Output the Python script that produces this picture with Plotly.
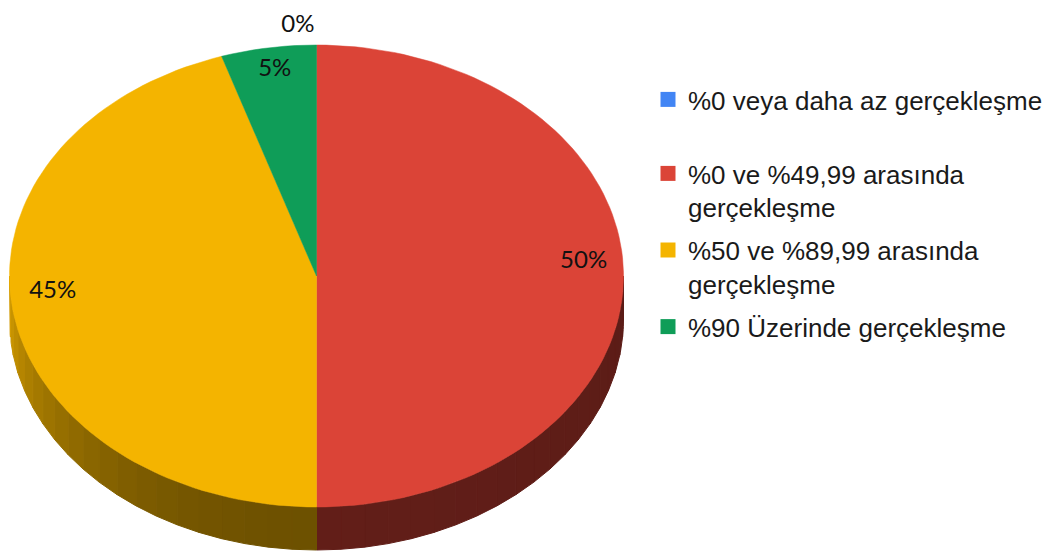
import numpy as np
import plotly.graph_objects as go

# ---- data ----
categories = [
    "%0 veya daha az gerçekleşme",
    "%0 ve %49,99 arasında gerçekleşme",
    "%50 ve %89,99 arasında gerçekleşme",
    "%90 Üzerinde gerçekleşme",
]
legend_labels = [
    "%0 veya daha az gerçekleşme",
    "%0 ve %49,99 arasında<br>gerçekleşme",
    "%50 ve %89,99 arasında<br>gerçekleşme",
    "%90 Üzerinde gerçekleşme",
]
values = [0, 50, 45, 5]
colors = ["#4285F4", "#DB4437", "#F4B400", "#0F9D58"]

# ---- geometry / style (window pixel space; page body has an 8px margin) ----
W, H, OFF = 1058, 555, 8
cx, cy, rx, ry, depth = 316.5, 276.0, 307.0, 231.0, 43.0


def hex_rgb(h):
    h = h.lstrip("#")
    return np.array([int(h[i:i + 2], 16) for i in (0, 2, 4)], dtype=float)


def shade(t):
    # darkness of the visible side wall, by angle (clockwise from top)
    if t <= np.pi:
        return 0.42 + 0.03 * (t - np.pi / 2) / (np.pi / 2)
    u = (t - np.pi) / (np.pi / 2)
    return 0.45 + 0.43 * u ** 2


def ell(t, dy=0.0):
    return cx + rx * np.sin(t), cy - ry * np.cos(t) + dy


total = float(sum(values))
fracs = np.array(values, dtype=float) / total
ends = np.cumsum(fracs) * 2 * np.pi
starts = ends - fracs * 2 * np.pi

fig = go.Figure()

# side walls (front half only)
for i, c in enumerate(colors):
    lo = max(starts[i], np.pi / 2)
    hi = min(ends[i], 3 * np.pi / 2)
    if hi <= lo:
        continue
    nseg = max(2, int(40 * (hi - lo) / np.pi))
    edges = np.linspace(lo, hi, nseg + 1)
    base = hex_rgb(c)
    for a, b in zip(edges[:-1], edges[1:]):
        ts = np.linspace(a, b, 8)
        xt, yt = ell(ts)
        xb, yb = ell(ts[::-1], depth)
        col = np.clip(base * shade((a + b) / 2), 0, 255).astype(int)
        cs = "rgb(%d,%d,%d)" % tuple(col)
        fig.add_trace(go.Scatter(
            x=np.concatenate([xt, xb, xt[:1]]),
            y=np.concatenate([yt, yb, yt[:1]]),
            mode="lines", fill="toself", fillcolor=cs,
            line=dict(color=cs, width=1),
            hoverinfo="skip", showlegend=False))

# top faces
for i, c in enumerate(colors):
    if values[i] <= 0:
        continue
    n = max(4, int(200 * fracs[i]))
    ts = np.linspace(starts[i], ends[i], n)
    xs, ys = ell(ts)
    fig.add_trace(go.Scatter(
        x=np.concatenate([[cx], xs, [cx]]),
        y=np.concatenate([[cy], ys, [cy]]),
        mode="lines", fill="toself", fillcolor=c,
        line=dict(color=c, width=0.5),
        name=categories[i], hoverinfo="name", showlegend=False))

# percentage labels
for i in range(len(values)):
    mid = (starts[i] + ends[i]) / 2
    pct = "%d%%" % round(100 * fracs[i])
    if values[i] <= 0:
        x, y = ell(mid)
        x, y, pos = x - 2, cy - 10 - 1.04 * ry, "middle left"
    else:
        x = cx + 0.87 * rx * np.sin(mid)
        y = cy - 14 - 0.84 * ry * np.cos(mid)
        pos = "middle center"
    fig.add_trace(go.Scatter(
        x=[x], y=[y], text=[pct], mode="text", textposition=pos,
        cliponaxis=False,
        textfont=dict(family="Lato, 'Open Sans', sans-serif", size=24, color="#111111"),
        hoverinfo="skip", showlegend=False))

# legend entries
for i, c in enumerate(colors):
    fig.add_trace(go.Scatter(
        x=[None], y=[None], mode="markers",
        marker=dict(symbol="square", size=15, color=c),
        name=legend_labels[i], legendgroup="g%d" % i,
        legend="legend" if i == 0 else "legend2",
        showlegend=True))

FW, FH = W - OFF, H - OFF
legend_common = dict(
    font=dict(family="'Liberation Sans', Arial, sans-serif", size=26, color="#1a1a1a"),
    bgcolor="rgba(0,0,0,0)", itemwidth=30, valign="top",
    xanchor="left", yanchor="top", tracegroupgap=6,
    itemclick=False, itemdoubleclick=False,
)

fig.update_layout(
    width=FW, height=FH,
    margin=dict(l=0, r=0, t=0, b=0),
    paper_bgcolor="white", plot_bgcolor="white",
    xaxis=dict(range=[OFF, W], visible=False, fixedrange=True),
    yaxis=dict(range=[H, OFF], visible=False, fixedrange=True),
    legend=dict(x=(648 - OFF) / FW, y=1 - 68 / FH, **legend_common),
    legend2=dict(x=(648 - OFF) / FW, y=1 - 142 / FH, **legend_common),
    showlegend=True,
)

fig.write_html("out.html")
